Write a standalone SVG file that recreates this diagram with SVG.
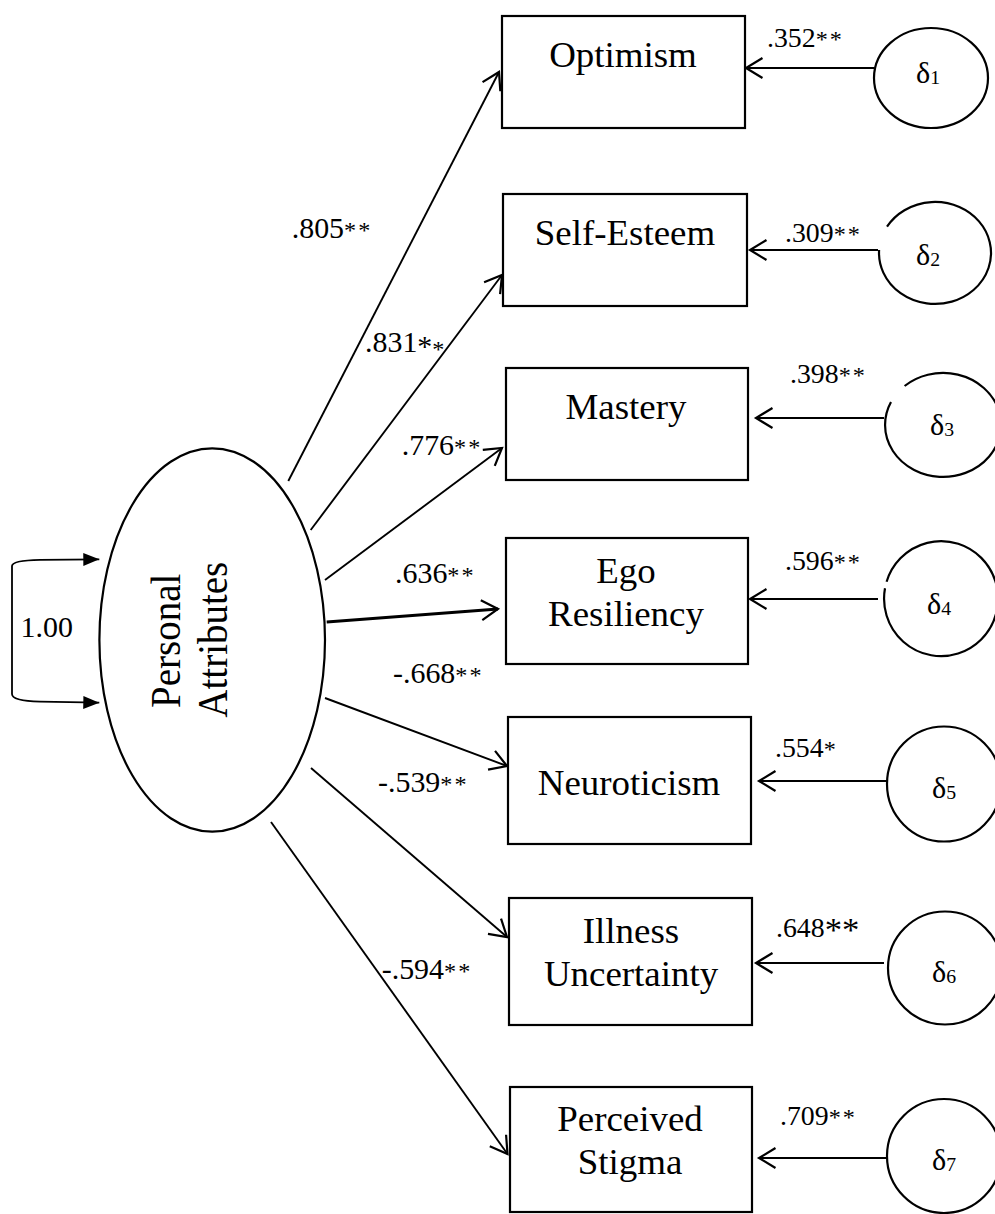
<svg xmlns="http://www.w3.org/2000/svg" width="995" height="1214" viewBox="0 0 995 1214">
  <style>
    text { font-family: "Liberation Serif", "Times New Roman", serif; fill: #000; }
    .box { fill: #fff; stroke: #000; stroke-width: 2.2; }
    .latent { fill: #fff; stroke: #000; stroke-width: 2.2; }
    .err { fill: #fff; stroke: #000; stroke-width: 2.2; }
    .lbl { font-size: 35.5px; text-anchor: middle; }
    .lat { font-size: 39px; text-anchor: middle; }
    .coef { font-size: 28.5px; }
    .coefR { font-size: 26.5px; }
    .sm { font-size: 23px; letter-spacing: 2px; }
    .big { font-size: 33px; }
    .delta { font-size: 29px; }
    .sub { font-size: 19px; }
    .path { fill: none; stroke: #000; stroke-width: 1.9; marker-end: url(#open); }
    .thick { stroke-width: 2.8; }
    .loop { fill: none; stroke: #000; stroke-width: 1.8; marker-start: url(#solid); marker-end: url(#solid); }
  </style>
  <defs>
    <marker id="open" markerUnits="userSpaceOnUse" viewBox="-20 -20 40 40" markerWidth="40" markerHeight="40" refX="0" refY="0" orient="auto" overflow="visible">
      <path d="M -16.5 -10 L 0 0 L -16.5 10" fill="none" stroke="#000" stroke-width="2.2"/>
    </marker>
    <marker id="solid" markerUnits="userSpaceOnUse" viewBox="-20 -20 40 40" markerWidth="40" markerHeight="40" refX="0" refY="0" orient="auto-start-reverse" overflow="visible">
      <path d="M -16 -6.5 L 0 0 L -16 6.5 Z" fill="#000"/>
    </marker>
  </defs>

  <rect width="995" height="1214" fill="#fff"/>

  <!-- latent factor -->
  <g id="personal-attributes">
    <ellipse class="latent" cx="212.2" cy="640" rx="112.8" ry="191.7"/>
    <text class="lat" transform="translate(179.5 640.8) scale(1.08 1) rotate(-90)">Personal</text>
    <text class="lat" transform="translate(227 639.7) scale(1.08 1) rotate(-90)">Attributes</text>
  </g>

  <!-- observed indicators -->
  <g id="optimism">
    <rect class="box" x="502" y="16" width="243" height="112"/>
    <text class="lbl" transform="translate(623 67) scale(1.04 1)">Optimism</text>
  </g>
  <g id="self-esteem">
    <rect class="box" x="503" y="194" width="244" height="112"/>
    <text class="lbl" transform="translate(625 245) scale(1.04 1)">Self-Esteem</text>
  </g>
  <g id="mastery">
    <rect class="box" x="506" y="368" width="242" height="112"/>
    <text class="lbl" transform="translate(626 419) scale(1.04 1)">Mastery</text>
  </g>
  <g id="ego-resiliency">
    <rect class="box" x="506" y="538" width="242" height="126"/>
    <text class="lbl" transform="translate(626 583) scale(1.04 1)">Ego</text>
    <text class="lbl" transform="translate(626 626) scale(1.04 1)">Resiliency</text>
  </g>
  <g id="neuroticism">
    <rect class="box" x="508" y="717" width="243" height="127"/>
    <text class="lbl" transform="translate(629 795) scale(1.04 1)">Neuroticism</text>
  </g>
  <g id="illness-uncertainty">
    <rect class="box" x="509" y="898" width="243" height="127"/>
    <text class="lbl" transform="translate(631 943) scale(1.04 1)">Illness</text>
    <text class="lbl" transform="translate(631 986) scale(1.04 1)">Uncertainty</text>
  </g>
  <g id="perceived-stigma">
    <rect class="box" x="510" y="1087" width="242" height="125"/>
    <text class="lbl" transform="translate(630 1131) scale(1.04 1)">Perceived</text>
    <text class="lbl" transform="translate(630 1174) scale(1.04 1)">Stigma</text>
  </g>

  <!-- error terms -->
  <g id="delta1">
    <ellipse class="err" cx="931" cy="78" rx="57" ry="50"/>
    <text class="delta" transform="translate(916 83) scale(1.04 1)">δ<tspan class="sub" dy="1">1</tspan></text>
  </g>
  <g id="delta2">
    <path class="err" d="M 887 226.7 A 56 51 0 1 1 879.1 250"/>
    <text class="delta" transform="translate(916 265) scale(1.04 1)">δ<tspan class="sub" dy="1">2</tspan></text>
  </g>
  <g id="delta3">
    <path class="err" d="M 904.6 386 A 58 52 0 1 1 891 402"/>
    <text class="delta" transform="translate(930 435) scale(1.04 1)">δ<tspan class="sub" dy="1">3</tspan></text>
  </g>
  <g id="delta4">
    <path class="err" d="M 886.6 581.7 A 57 57.5 0 1 1 885 588.3"/>
    <text class="delta" transform="translate(927 614) scale(1.04 1)">δ<tspan class="sub" dy="1">4</tspan></text>
  </g>
  <g id="delta5">
    <ellipse class="err" cx="944" cy="784" rx="57" ry="57.5"/>
    <text class="delta" transform="translate(932 798) scale(1.04 1)">δ<tspan class="sub" dy="1">5</tspan></text>
  </g>
  <g id="delta6">
    <ellipse class="err" cx="945" cy="968" rx="57" ry="56.5"/>
    <text class="delta" transform="translate(932 982) scale(1.04 1)">δ<tspan class="sub" dy="1">6</tspan></text>
  </g>
  <g id="delta7">
    <ellipse class="err" cx="944" cy="1156" rx="57" ry="57"/>
    <text class="delta" transform="translate(932 1170) scale(1.04 1)">δ<tspan class="sub" dy="1">7</tspan></text>
  </g>

  <!-- paths, loadings and error weights -->
  <g id="connectors">
    <path class="loop" d="M 99.3 559.3 L 40 559.8 Q 12 560.3 12 566 L 12 694 Q 12 701 40 701.6 L 99.3 702.7"/>
    <text class="coef" transform="translate(20.5 637.3) scale(1.05 1)">1.00</text>

    <line class="path" x1="288.3" y1="481" x2="499" y2="72"/>
    <line class="path" x1="310.7" y1="530" x2="502" y2="275"/>
    <line class="path" x1="325" y1="580" x2="502" y2="448"/>
    <line class="path thick" x1="326.7" y1="622" x2="498" y2="609"/>
    <line class="path" x1="325" y1="698" x2="507" y2="766"/>
    <line class="path" x1="311" y1="768" x2="507" y2="937"/>
    <line class="path" x1="271" y1="822" x2="507.5" y2="1154"/>

    <text class="coef" transform="translate(291.7 238) scale(1.05 1)">.805<tspan class="sm">**</tspan></text>
    <text class="coef" transform="translate(365 351.7) scale(1.05 1)">.831<tspan dy="4">*</tspan><tspan class="sm" dy="1">*</tspan></text>
    <text class="coef" transform="translate(401.7 455) scale(1.05 1)">.776<tspan class="sm">**</tspan></text>
    <text class="coef" transform="translate(395 583) scale(1.05 1)">.636<tspan class="sm">**</tspan></text>
    <text class="coef" transform="translate(393 683) scale(1.05 1)">-.668<tspan class="sm">**</tspan></text>
    <text class="coef" transform="translate(378 791.7) scale(1.05 1)">-.539<tspan class="sm">**</tspan></text>
    <text class="coef" transform="translate(381.7 979) scale(1.05 1)">-.594<tspan class="sm">**</tspan></text>

    <line class="path" x1="874" y1="68" x2="746" y2="68"/>
    <line class="path" x1="878" y1="250" x2="750" y2="250"/>
    <line class="path" x1="884" y1="418" x2="756" y2="418"/>
    <line class="path" x1="878" y1="599" x2="750" y2="599"/>
    <line class="path" x1="887" y1="781" x2="759" y2="781"/>
    <line class="path" x1="884" y1="963" x2="756" y2="963"/>
    <line class="path" x1="887" y1="1158" x2="759" y2="1158"/>

    <text class="coefR" transform="translate(767 46.7) scale(1.05 1)">.352<tspan class="sm">**</tspan></text>
    <text class="coefR" transform="translate(785 241.7) scale(1.05 1)">.309<tspan class="sm">**</tspan></text>
    <text class="coefR" transform="translate(790 383) scale(1.05 1)">.398<tspan class="sm">**</tspan></text>
    <text class="coefR" transform="translate(785 570) scale(1.05 1)">.596<tspan class="sm">**</tspan></text>
    <text class="coefR" transform="translate(775 757) scale(1.05 1)">.554<tspan class="sm">*</tspan></text>
    <text class="coefR" transform="translate(776 937) scale(1.05 1)">.648<tspan class="big" dy="4">**</tspan></text>
    <text class="coefR" transform="translate(780 1125) scale(1.05 1)">.709<tspan class="sm">**</tspan></text>
  </g>
</svg>
